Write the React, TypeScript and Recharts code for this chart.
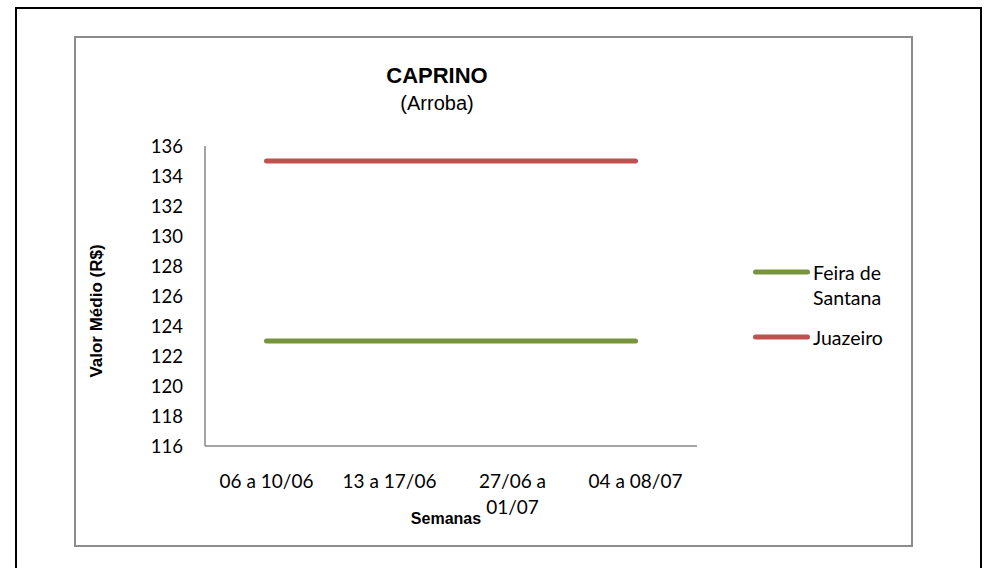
import React from 'react';
import { LineChart, Line, XAxis, YAxis, Legend } from 'recharts';

// weekly average price, goat (arroba)
const weeks = ['06 a 10/06', '13 a 17/06', '27/06 a 01/07', '04 a 08/07'];
const feiraDeSantana = [123, 123, 123, 123];
const juazeiro = [135, 135, 135, 135];
const yTicks = [116, 118, 120, 122, 124, 126, 128, 130, 132, 134, 136];

const data = weeks.map((week, i) => ({
  week,
  feira: feiraDeSantana[i],
  juazeiro: juazeiro[i],
}));

const wrapLabel = (text: string, maxChars: number) => {
  const words = text.split(' ');
  const lines: string[] = [];
  let cur = '';
  words.forEach(w => {
    const next = cur ? cur + ' ' + w : w;
    if (next.length > maxChars && cur) {
      lines.push(cur);
      cur = w;
    } else {
      cur = next;
    }
  });
  if (cur) lines.push(cur);
  return lines;
};

const WeekTick = ({ x, y, payload }: any) => {
  const lines = wrapLabel(String(payload.value), 10);
  return (
    <text x={x} y={y} textAnchor="middle" fontFamily="Lato" fontSize={19} fill="#000">
      {lines.map((l, i) => (
        <tspan key={i} x={x} dy={i === 0 ? 42 : 26}>{l}</tspan>
      ))}
    </text>
  );
};

const SeriesLegend = ({ payload }: any) => (
  <div>
    {(payload || []).map((entry: any) => (
      <div key={entry.value} style={{ display: 'flex', alignItems: 'flex-start', marginBottom: 15 }}>
        <svg width={60} height={25}>
          <line x1={2.5} y1={12} x2={54.5} y2={12} stroke={entry.color} strokeWidth={5} strokeLinecap="round" />
        </svg>
        <div style={{ width: 95, fontFamily: 'Lato', fontSize: 19.5, lineHeight: '25px', color: '#000' }}>
          {entry.value}
        </div>
      </div>
    ))}
  </div>
);

export default function App() {
  return (
    <div style={{ position: 'absolute', left: 0, top: 0, width: 989, height: 568, overflow: 'hidden', background: '#fff' }}>
      <div style={{ position: 'absolute', left: 15, top: 7, width: 967, height: 620, border: '2px solid #000', boxSizing: 'border-box' }} />
      <div style={{ position: 'absolute', left: 74, top: 36, width: 839, height: 511, border: '2px solid #8c8c8c', boxSizing: 'border-box' }} />
      <div style={{ position: 'absolute', left: 0, top: 0 }}>
        <LineChart width={989} height={568} data={data} margin={{ top: 146, right: 292, bottom: 82, left: 145 }}>
          <XAxis
            dataKey="week"
            height={40}
            padding={{ left: 61.5, right: 61.5 }}
            stroke="#868686"
            strokeWidth={1.5}
            tickLine={false}
            tickSize={0}
            tickMargin={0}
            interval={0}
            tick={<WeekTick />}
          />
          <YAxis
            width={60}
            domain={[116, 136]}
            ticks={yTicks}
            interval={0}
            stroke="#868686"
            strokeWidth={1.5}
            tickLine={false}
            tickSize={0}
            tickMargin={22}
            tick={{ fontFamily: 'Lato', fontSize: 18.5, fill: '#000' }}
          />
          <Legend
            layout="vertical"
            align="center"
            verticalAlign="middle"
            wrapperStyle={{ left: 753, top: 259.5, width: 170 }}
            content={<SeriesLegend />}
          />
          <Line
            dataKey="feira"
            name="Feira de Santana"
            stroke="#77933C"
            strokeWidth={5}
            strokeLinecap="round"
            dot={false}
            isAnimationActive={false}
          />
          <Line
            dataKey="juazeiro"
            name="Juazeiro"
            stroke="#C0504D"
            strokeWidth={5}
            strokeLinecap="round"
            dot={false}
            isAnimationActive={false}
          />
        </LineChart>
      </div>
      <svg width={989} height={568} style={{ position: 'absolute', left: 0, top: 0, pointerEvents: 'none' }}>
        <text x={437} y={83} textAnchor="middle" fontFamily="Liberation Sans" fontWeight="bold" fontSize={22} fill="#000">CAPRINO</text>
        <text x={437} y={110} textAnchor="middle" fontFamily="Liberation Sans" fontSize={20} fill="#000">(Arroba)</text>
        <text x={102} y={311} transform="rotate(-90 102 311)" textAnchor="middle" fontFamily="Liberation Sans" fontWeight="bold" fontSize={17} fill="#000">Valor Médio (R$)</text>
        <text x={446} y={524} textAnchor="middle" fontFamily="Liberation Sans" fontWeight="bold" fontSize={16} fill="#000">Semanas</text>
      </svg>
    </div>
  );
}
